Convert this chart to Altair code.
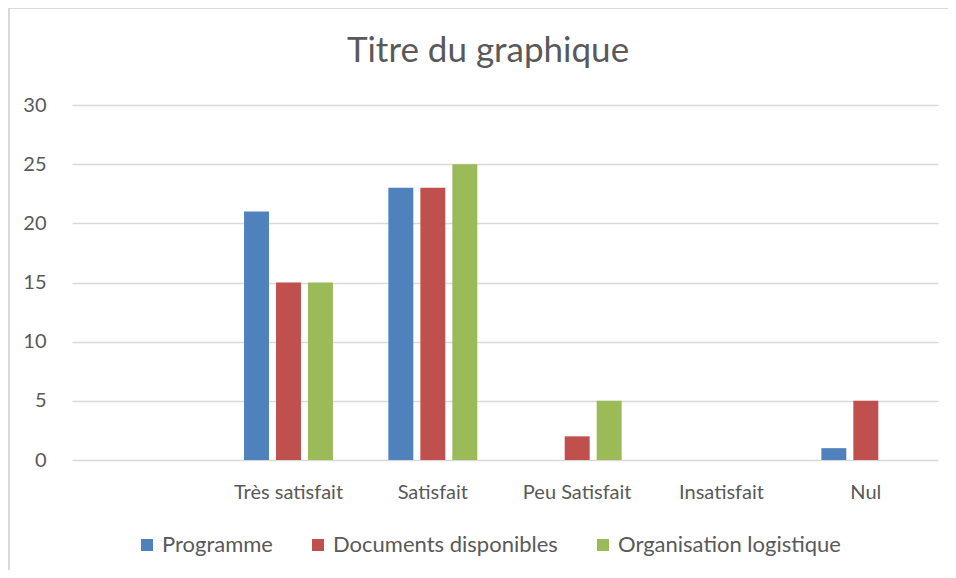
import altair as alt
import pandas as pd

categories = [" ", "Très satisfait", "Satisfait", "Peu Satisfait", "Insatisfait", "Nul"]
series = ["Programme", "Documents disponibles", "Organisation logistique"]
colors = ["#4F81BD", "#C0504D", "#9BBB59"]
programme = [21, 23, 0, 0, 1]
documents = [15, 23, 2, 0, 5]
organisation = [15, 25, 5, 0, 0]

rows = []
for name, vals in zip(series, [programme, documents, organisation]):
    for cat, v in zip(categories[1:], vals):
        rows.append({"cat": cat, "serie": name, "val": v})
df = pd.DataFrame(rows)

FONT = "Lato"
TXT = "#595959"

bars = alt.Chart(df).mark_bar().encode(
    x=alt.X("cat:N", sort=categories,
            scale=alt.Scale(domain=categories, paddingInner=0.335, paddingOuter=0.1675),
            axis=alt.Axis(title=None, labelAngle=0, domain=False, ticks=False,
                          labelFontSize=20, labelColor=TXT, labelFont=FONT, labelPadding=22)),
    xOffset=alt.XOffset("serie:N", sort=series,
                        scale=alt.Scale(domain=series, paddingInner=0.22, paddingOuter=0.11)),
    y=alt.Y("val:Q", scale=alt.Scale(domain=[0, 30]),
            axis=alt.Axis(title=None, values=[0, 5, 10, 15, 20, 25, 30], domain=False, ticks=False,
                          labelFontSize=20, labelColor=TXT, labelFont=FONT, labelPadding=26,
                          gridColor="#d9d9d9", gridWidth=1.5)),
    color=alt.Color("serie:N", sort=series,
                    scale=alt.Scale(domain=series, range=colors),
                    legend=alt.Legend(title=None, orient="none", direction="horizontal",
                                      legendX=64, legendY=429, symbolType="square",
                                      symbolSize=144, symbolStrokeWidth=0, labelFontSize=22,
                                      labelColor=TXT, labelFont=FONT, labelOffset=4,
                                      labelLimit=0, columnPadding=34)),
)

frame = pd.DataFrame({"a": [0]})
top_line = alt.Chart(frame).mark_rule(color="#d9d9d9", strokeWidth=2).encode(
    x=alt.value(-63), x2=alt.value(1000), y=alt.value(-97))
left_line = alt.Chart(frame).mark_rule(color="#d9d9d9", strokeWidth=2).encode(
    x=alt.value(-63), y=alt.value(-97), y2=alt.value(600))

chart = alt.layer(top_line, left_line, bars).properties(
    width=866, height=355,
    title=alt.TitleParams("Titre du graphique", fontSize=35, font=FONT, color=TXT,
                          fontWeight="normal", anchor="middle", dx=-17, offset=-62),
    autosize=alt.AutoSizeParams(type="none"),
    padding={"left": 64, "top": 97, "right": 10, "bottom": 110},
).configure_view(stroke=None)

chart.save("out.html", embed_options={"renderer": "svg", "actions": False})
